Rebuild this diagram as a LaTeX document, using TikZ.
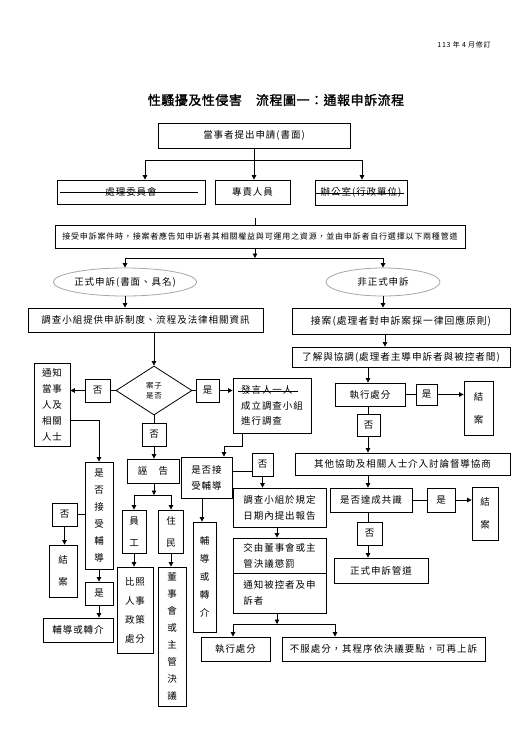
\documentclass[tikz,border=0pt]{standalone}
\usepackage{fontspec}
\setmainfont{Noto Sans CJK TC}[LetterSpace=10]
\newfontfamily\titlefont{Noto Sans CJK TC}[FakeBold=1.5,LetterSpace=4]
\usetikzlibrary{shapes.geometric,arrows.meta}
\begin{document}
\begin{tikzpicture}[x=1pt,y=-1pt,
  bx/.style={draw,line width=0.8pt,inner sep=0pt,align=center,font=\fontsize{9.5}{12}\selectfont},
  fs/.style={font=\fontsize{9.5}{#1}\selectfont},
  sz/.style 2 args={minimum width=#1pt,minimum height=#2pt},
  ell/.style={ellipse,draw=gray!70,line width=0.8pt,inner sep=0pt,font=\fontsize{9.5}{12}\selectfont},
  dia/.style={diamond,draw,line width=0.8pt,inner sep=0pt,aspect=1.55,align=center,font=\fontsize{7.5}{10}\selectfont},
  ln/.style={line width=0.8pt},
  arr/.style={line width=0.8pt,-{Triangle[length=4.5pt,width=4.5pt]}}]
\useasboundingbox (0,0) rectangle (530,750);

% header and title
\node[font=\fontsize{7}{8}\selectfont] (rev) at (464,45) {113 年 4 月修訂};
\node[font=\titlefont\fontsize{13}{15}\selectfont] (title) at (276,100) {性騷擾及性侵害　流程圖一：通報申訴流程};

% top part
\node[bx,sz={192}{25}] (apply) at (254,135.5) {當事者提出申請(書面)};
\node[bx,sz={148}{24}] (comm) at (131,192) {處理委員會};
\node[bx,sz={75}{24}] (zhuan) at (252.5,192) {專責人員};
\node[bx,sz={92}{25}] (office) at (361,192.5) {辦公室(行政單位)};
\draw[ln] (60,192) -- (198,192);
\draw[ln] (316,193) -- (404,193);

\coordinate (b1L) at (145,160);
\coordinate (b1R) at (362,160);
\draw[ln] (b1L) -- (b1R);
\draw[arr] (apply.south) -- (zhuan.north -| apply.south);
\draw[arr] (b1L) -- (comm.north -| b1L);
\draw[arr] (b1R) -- (office.north -| b1R);

\node[bx,sz={410}{23},font=\fontsize{8}{10}\selectfont] (accept) at (260,236.5) {接受申訴案件時，接案者應告知申訴者其相關權益與可運用之資源，並由申訴者自行選擇以下兩種管道};
\coordinate (stub) at (255,218);
\draw[ln] (stub) -- (accept.north -| stub);
\coordinate (b2) at (255,258);
\coordinate (b2L) at (125,258);
\coordinate (b2R) at (383,258);
\draw[arr] (accept.south -| b2) -- (b2);
\draw[ln] (b2L) -- (b2R);

\node[ell,sz={134}{28}] (formal) at (125,282) {正式申訴(書面、具名)};
\node[ell,sz={114}{28}] (informal) at (383,282) {非正式申訴};
\draw[arr] (b2L) -- (formal.north);
\draw[arr] (b2R) -- (informal.north);

\node[bx,sz={235}{24}] (info) at (145.5,320) {調查小組提供申訴制度、流程及法律相關資訊};
\node[bx,sz={218}{26},font=\fontsize{9.8}{12}\selectfont] (case) at (401,321) {接案(處理者對申訴案採一律回應原則)};
\draw[arr] (formal.south) -- (info.north -| formal.south);
\draw[arr] (informal.south) -- (case.north -| informal.south);

% right column
\node[bx,sz={218}{20},font=\fontsize{9.6}{12}\selectfont] (understand) at (401,357) {了解與協調(處理者主導申訴者與被控者間)};
\node[bx,sz={70}{23}] (exec1) at (370,394.5) {執行處分};
\node[bx,sz={21}{21}] (yes1) at (426.5,394.5) {是};
\node[bx,sz={29}{54},fs=23] (close1) at (478.5,408) {結\\案};
\node[bx,sz={23}{22}] (no1) at (368.5,425) {否};
\node[bx,sz={215}{22}] (other) at (402.5,464) {其他協助及相關人士介入討論督導協商};
\node[bx,sz={82}{24}] (consensus) at (371,500) {是否達成共識};
\node[bx,sz={28}{24}] (yes2) at (441,500) {是};
\node[bx,sz={26}{53},fs=23] (close2) at (485,513.5) {結\\案};
\node[bx,sz={25}{23}] (no2) at (369.5,533.5) {否};
\node[bx,sz={94}{25}] (formalch) at (381,570.5) {正式申訴管道};

\coordinate (xr1) at (385,0);
\coordinate (xr2) at (368,0);
\draw[arr] (case.south -| xr1) -- (understand.north -| xr1);
\draw[arr] (understand.south -| xr2) -- (exec1.north -| xr2);
\draw[ln] (exec1.east) -- (yes1.west);
\draw[arr] (yes1.east) -- (close1.west |- yes1.east);
\draw[ln] (exec1.south -| xr2) -- (no1.north -| xr2);
\draw[arr] (no1.south -| xr2) -- (other.north -| xr2);
\draw[arr] (other.south -| xr2) -- (consensus.north -| xr2);
\draw[ln] (consensus.east) -- (yes2.west);
\draw[arr] (yes2.east) -- (close2.west |- yes2.east);
\draw[ln] (consensus.south -| xr2) -- (no2.north -| xr2);
\draw[arr] (no2.south -| xr2) -- (formalch.north -| xr2);

% diamond row
\node[dia,minimum width=76pt,minimum height=49pt] (diam) at (154,390.5) {案子\\是否};
\node[bx,sz={25}{23}] (noL) at (97.5,390.5) {否};
\node[bx,sz={36}{83},fs=16] (notify) at (52,404.5) {通知\\當事\\人及\\相關\\人士};
\node[bx,sz={23}{23}] (yesM) at (207.5,390.5) {是};
\node[bx,sz={78}{55},align=left,fs=15.5] (speak) at (272,405.5) {發言人一人\\成立調查小組\\進行調查};
\draw[ln] (238,391) -- (298,391);

\draw[arr] (info.south -| diam.north) -- (diam.north);
\draw[ln] (diam.west) -- (noL.east);
\draw[arr] (noL.west) -- (notify.east |- noL.west);
\draw[ln] (diam.east) -- (yesM.west);
\draw[arr] (yesM.east) -- (speak.west |- yesM.east);

% slander branch
\node[bx,sz={24}{23}] (noMid) at (154,434.5) {否};
\node[bx,sz={52}{24}] (slander) at (153,471) {誣　告};
\node[bx,sz={24}{43},fs=22] (emp) at (134,531.5) {員\\工};
\node[bx,sz={25}{43},fs=22] (res) at (171,531.5) {住\\民};
\node[bx,sz={36}{86},fs=19] (compare) at (135,610) {比照\\人事\\政策\\處分};
\node[bx,sz={28}{139},fs=17] (board) at (172,636.5) {董\\事\\會\\或\\主\\管\\決\\議};
\draw[ln] (diam.south) -- (noMid.north);
\draw[arr] (noMid.south) -- (slander.north -| noMid.south);
\coordinate (b3) at (154,495);
\coordinate (b3L) at (134,495);
\coordinate (b3R) at (171,495);
\draw[arr] (slander.south -| b3) -- (b3);
\draw[ln] (b3L) -- (b3R);
\draw[arr] (b3L) -- (emp.north);
\draw[arr] (b3R) -- (res.north);
\draw[arr] (emp.south) -- (compare.north -| emp.south);
\draw[arr] (res.south) -- (board.north -| res.south);

% left column
\node[bx,sz={28}{107},fs=17] (acc1) at (99,515.5) {是\\否\\接\\受\\輔\\導};
\node[bx,sz={25}{23}] (noL2) at (64.5,514.5) {否};
\node[bx,sz={28}{52},fs=22] (closeL) at (63,571) {結\\案};
\node[bx,sz={28}{23}] (yesL) at (99,593.5) {是};
\node[bx,sz={70}{24}] (counselL) at (78,630) {輔導或轉介};
\coordinate (k1) at (99,420);
\draw[arr] (notify.east |- k1) -- (k1) -- (acc1.north);
\draw[ln] (acc1.west |- noL2.east) -- (noL2.east);
\draw[arr] (noL2.south) -- (closeL.north -| noL2.south);
\draw[arr] (acc1.south) -- (yesL.north);
\draw[arr] (yesL.south) -- (counselL.north -| yesL.south);

% middle column
\node[bx,sz={51}{41},fs=16] (acc2) at (206.5,477.5) {是否接\\受輔導};
\node[bx,sz={21}{23}] (noM2) at (262.5,464.5) {否};
\node[bx,sz={93}{39},align=left,fs=16] (report) at (279.5,507.5) {調查小組於規定\\日期內提出報告};
\node[bx,sz={93}{35},align=left,fs=16] (punish) at (279.5,555.5) {交由董事會或主\\管決議懲罰};
\node[bx,sz={93}{40},align=left,fs=16] (notify2) at (279.5,593) {通知被控者及申\\訴者};
\node[bx,sz={23}{110},fs=18] (counselM) at (204.5,577) {輔\\導\\或\\轉\\介};
\node[bx,sz={69}{24}] (exec2) at (235.5,649) {執行處分};
\node[bx,sz={203}{24}] (appeal) at (383.5,649) {不服處分，其程序依決議要點，可再上訴};

\coordinate (k2) at (242,446);
\coordinate (k3) at (224,446);
\draw[arr] (speak.south -| k2) -- (k2) -- (k3) -- (acc2.north -| k3);
\coordinate (k4) at (252,471);
\draw[ln] (acc2.east |- k4) -- (noM2.west |- k4);
\draw[arr] (noM2.south) -- (report.north -| noM2.south);
\coordinate (xm) at (277,0);
\coordinate (xc) at (202,0);
\draw[arr] (report.south -| xm) -- (punish.north -| xm);
\draw[arr] (acc2.south -| xc) -- (counselM.north -| xc);
\coordinate (b4) at (277,624);
\coordinate (b4L) at (233,624);
\coordinate (b4R) at (335,624);
\draw[arr] (notify2.south -| xm) -- (b4);
\draw[ln] (b4L) -- (b4R);
\draw[arr] (b4L) -- (exec2.north -| b4L);
\draw[arr] (b4R) -- (appeal.north -| b4R);
\end{tikzpicture}
\end{document}
